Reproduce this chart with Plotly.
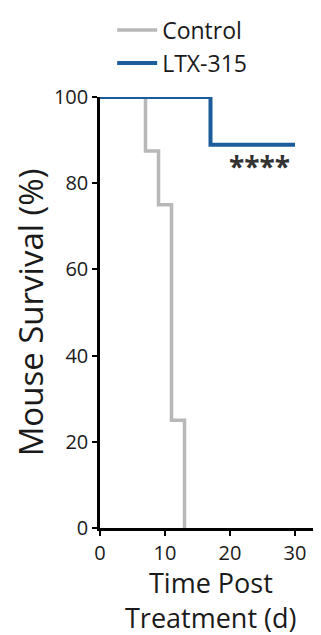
import plotly.graph_objects as go

# Survival step data (days, % survival)
control_days = [0, 7, 9, 11, 13]
control_surv = [100, 87.5, 75, 25, 0]
ltx_days = [0, 17, 30]
ltx_surv = [100, 88.9, 88.9]

x_ticks = [0, 10, 20, 30]
y_ticks = [0, 20, 40, 60, 80, 100]
x_title_lines = ["Time Post", "Treatment (d)"]

FONT = "Open Sans"
fig = go.Figure()
fig.add_trace(go.Scatter(x=control_days, y=control_surv, mode="lines", line_shape="hv",
                         name="Control", line=dict(color="#b8b8b8", width=3.5), cliponaxis=False))
fig.add_trace(go.Scatter(x=ltx_days, y=ltx_surv, mode="lines", line_shape="hv",
                         name="LTX-315", line=dict(color="#1b5c9a", width=4), cliponaxis=False))

fig.add_annotation(x=24.6, y=84, text="<b>****</b>", showarrow=False,
                   font=dict(size=28, color="#333", family=FONT))

# x-axis title, two lines
for txt, yy in zip(x_title_lines, [-0.1265, -0.2085]):
    fig.add_annotation(xref="paper", yref="paper", x=0.5, y=yy, text=txt, showarrow=False,
                       xanchor="center", yanchor="middle", font=dict(size=27, family=FONT, color="#1a1a1a"))

# page body has an 8px default margin, so the figure is offset by 8px
fig.update_layout(
    width=313, height=627,
    margin=dict(l=92, r=0, t=89, b=107, autoexpand=False),
    plot_bgcolor="white", paper_bgcolor="white",
    font=dict(family=FONT, color="#1a1a1a"),
    showlegend=True,
    legend=dict(x=0.055, y=1.205, xanchor="left", yanchor="top", font=dict(size=23),
                itemwidth=40, tracegroupgap=0, bgcolor="rgba(0,0,0,0)"),
    xaxis=dict(range=[0, 34], tickvals=x_ticks, showgrid=False, zeroline=False, automargin=False,
               showline=True, linecolor="black", linewidth=2.5, ticks="outside",
               ticklen=5, tickwidth=2, tickcolor="black", tickfont=dict(size=20)),
    yaxis=dict(range=[0, 100], tickvals=y_ticks, showgrid=False, zeroline=False, automargin=False,
               showline=True, linecolor="black", linewidth=2.5, ticks="outside",
               ticklen=5, tickwidth=2, tickcolor="black", tickfont=dict(size=20),
               title=dict(text="Mouse Survival (%)", font=dict(size=33), standoff=4)),
)
fig.write_html("out.html")
